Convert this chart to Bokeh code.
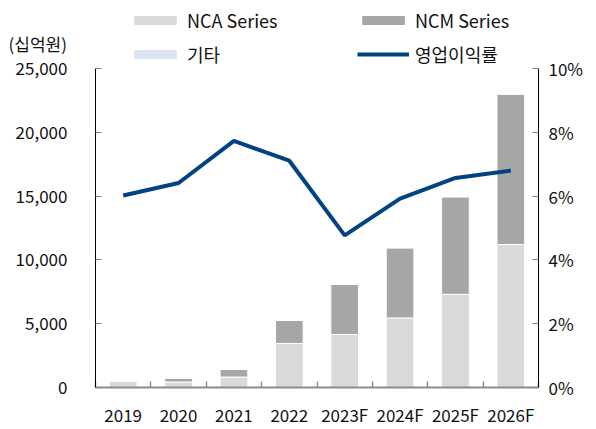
from bokeh.plotting import figure
from bokeh.models import (Range1d, LinearAxis, FixedTicker, Legend, LegendItem,
                          ColumnDataSource, NumeralTickFormatter)
from bokeh.core.properties import value
from bokeh.embed import file_html
from bokeh.resources import INLINE

years = ["2019", "2020", "2021", "2022", "2023F", "2024F", "2025F", "2026F"]
nca = [480, 430, 820, 3450, 4150, 5450, 7300, 11200]
ncm = [80, 290, 610, 1800, 3950, 5500, 7650, 11800]
etc = [0, 80, 0, 0, 0, 0, 0, 0]
margin = [6.02, 6.41, 7.73, 7.11, 4.77, 5.92, 6.57, 6.80]
left_ticks = [0, 5000, 10000, 15000, 20000, 25000]
right_ticks = [0, 2, 4, 6, 8, 10]
series_names = ["NCA Series", "NCM Series", "기타", "영업이익률"]
bar_colors = ["#d9d9d9", "#a6a6a6", "#dbe5f1"]
line_color = "#004282"
unit_label = "(십억원)"

FONT = "Noto Sans CJK KR"
TXT = "#111111"
W, H = 596, 429
ABS = {"position": "absolute", "top": "0px", "left": "0px"}

# ---------- background layer: unit label + legend ----------
pt = figure(width=W, height=H, output_backend="svg", toolbar_location=None,
            x_range=Range1d(0, W), y_range=Range1d(0, H),
            min_border=0, outline_line_color=None, x_axis_type=None,
            y_axis_type=None, styles=ABS)
pt.grid.visible = False
pt.text(x=[8], y=[H - 43], text=[unit_label], text_baseline="middle",
        text_font=value(FONT), text_font_size="17px", text_color=TXT)
# legend-only swatch renderers (kept outside the visible area)
dummy = ColumnDataSource(dict(x=[-100], y=[-100], top=[-100]))
leg_r = [pt.vbar(x="x", top="top", width=0.5, source=dummy, color=c,
                 line_color=c) for c in bar_colors]
leg_r.append(pt.line("x", "y", source=dummy, line_color=line_color, line_width=4))

legend = Legend(items=[LegendItem(label=n, renderers=[r])
                       for n, r in zip(series_names, leg_r)],
                orientation="horizontal", ncols=2, location=(129, H - 67))
legend.glyph_width = 52
legend.glyph_height = 10
legend.label_standoff = 6
legend.label_width = 162
legend.label_height = 20
legend.spacing = 8
legend.padding = 0
legend.margin = 0
legend.border_line_color = None
legend.background_fill_alpha = 0
legend.label_text_font = FONT
legend.label_text_font_size = "18px"
legend.label_text_color = TXT
pt.add_layout(legend, "center")

# ---------- main chart (transparent, on top) ----------
xpos = [i + 0.5 for i in range(len(years))]
src = ColumnDataSource(dict(x=xpos, nca=nca, ncm=ncm, etc=etc, margin=margin))

p = figure(width=W, height=H, output_backend="svg", toolbar_location=None,
           x_range=Range1d(0, len(years)), y_range=Range1d(0, 25000),
           min_border_left=95, min_border_right=58, min_border_top=68,
           min_border_bottom=40, outline_line_color=None, x_axis_type=None,
           y_axis_type=None, styles=ABS)
p.background_fill_alpha = 0
p.border_fill_alpha = 0
p.grid.visible = False
p.extra_y_ranges = {"pct": Range1d(0, 10)}

ly = LinearAxis(ticker=FixedTicker(ticks=left_ticks),
                formatter=NumeralTickFormatter(format="0,0"))
ly.axis_line_color = "black"
ly.major_tick_in = 6
ly.major_tick_out = 0
ly.major_tick_line_color = "#808080"
ly.minor_tick_line_color = None
ly.major_label_standoff = 28
ly.major_label_text_font = FONT
ly.major_label_text_font_size = "17px"
ly.major_label_text_color = TXT
p.add_layout(ly, "left")

ry = LinearAxis(y_range_name="pct", ticker=FixedTicker(ticks=right_ticks),
                major_label_overrides={t: f"{t}%" for t in right_ticks})
ry.axis_line_color = "black"
ry.major_tick_in = 6
ry.major_tick_out = 0
ry.major_tick_line_color = "#808080"
ry.minor_tick_line_color = None
ry.major_label_standoff = 10
ry.major_label_text_font = FONT
ry.major_label_text_font_size = "17px"
ry.major_label_text_color = TXT
p.add_layout(ry, "right")

bx = LinearAxis(ticker=FixedTicker(ticks=xpos, minor_ticks=list(range(len(years) + 1))),
                major_label_overrides={x: y for x, y in zip(xpos, years)})
bx.axis_line_color = "#8c8c8c"
bx.axis_line_width = 2
bx.major_tick_line_color = None
bx.minor_tick_in = 6
bx.minor_tick_out = 0
bx.minor_tick_line_color = "#8c8c8c"
bx.minor_tick_line_width = 1.5
bx.major_label_standoff = 8
bx.major_label_text_font = FONT
bx.major_label_text_font_size = "17px"
bx.major_label_text_color = TXT
p.add_layout(bx, "below")

p.vbar_stack(["nca", "ncm", "etc"], x="x", width=0.5, source=src,
             color=bar_colors, line_color="white", line_width=1)
p.line("x", "margin", source=src, y_range_name="pct",
       line_color=line_color, line_width=4)

open("out.html", "w").write(file_html([pt, p], INLINE))
